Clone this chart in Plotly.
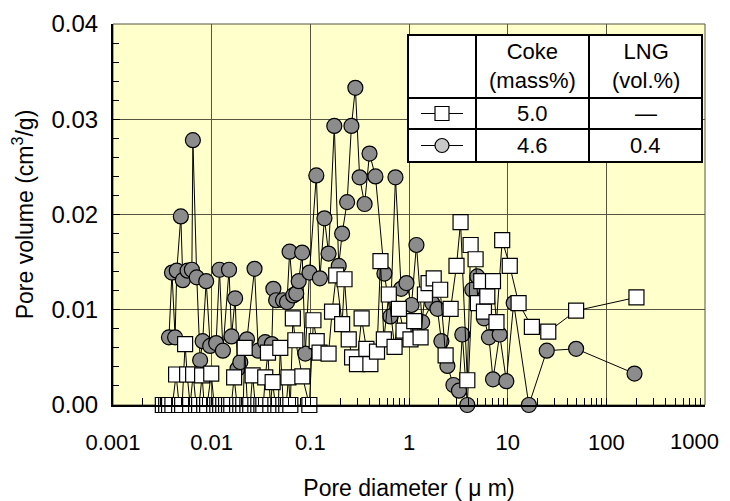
import plotly.graph_objects as go

# ---- data (pore diameter in micrometres, pore volume in cm3/g) ----
coke_d = [0.0032, 0.00346, 0.0037, 0.0040, 0.00436, 0.00468, 0.00502, 0.00538, 0.00564, 0.00605,
          0.00649, 0.00695, 0.00746, 0.0080, 0.0084, 0.0090, 0.0099, 0.0106, 0.0114, 0.0122,
          0.0131, 0.0140, 0.0150, 0.0158, 0.0169, 0.0181, 0.0195, 0.0209, 0.0216, 0.0230,
          0.0246, 0.0260, 0.0277, 0.0297, 0.0319, 0.0334, 0.0349, 0.0372, 0.0393, 0.0415,
          0.0442, 0.0474, 0.0496, 0.0532, 0.0570, 0.0600, 0.0627, 0.0665, 0.0705, 0.083,
          0.0977, 0.1075, 0.116, 0.124, 0.153, 0.166, 0.183, 0.210, 0.222, 0.245,
          0.265, 0.297, 0.331, 0.370, 0.406, 0.474, 0.514, 0.556, 0.624, 0.714,
          0.79, 0.88, 1.035, 1.13, 1.31, 1.45, 1.58, 1.78, 2.07, 2.35,
          2.64, 3.03, 3.33, 3.90, 4.21, 4.73, 4.99, 5.40, 5.75, 6.22,
          7.1, 7.7, 8.8, 10.5, 12.9, 17.6, 25.8, 49.4, 202]
coke_v = [0.0, 0.0, 0.0, 0.0, 0.0032, 0.0, 0.0, 0.0064, 0.0032, 0.0,
          0.0032, 0.0, 0.0, 0.0031, 0.0, 0.0, 0.0033, 0.0, 0.0, 0.0,
          0.0, 0.0, 0.0, 0.0, 0.0029, 0.0, 0.0, 0.0, 0.0060, 0.0,
          0.0, 0.0031, 0.0, 0.0, 0.0, 0.0, 0.0029, 0.0055, 0.0, 0.0024,
          0.0, 0.0, 0.0060, 0.0, 0.0, 0.0029, 0.0, 0.0091, 0.0068, 0.0030,
          0.0, 0.0089, 0.0067, 0.0055, 0.0054, 0.0098, 0.0136, 0.0085, 0.0132, 0.0069,
          0.0050, 0.0043, 0.0091, 0.0059, 0.0043, 0.0056, 0.0151, 0.0069, 0.0116, 0.0061,
          0.0101, 0.0078, 0.0069, 0.0088, 0.0071, 0.0116, 0.0128, 0.0133, 0.0121, 0.0052,
          0.0101, 0.0146, 0.0192, 0.0026, 0.0168, 0.0153, 0.0107, 0.0130, 0.0098, 0.0114,
          0.0130, 0.0087, 0.0173, 0.0146, 0.0107, 0.0082, 0.0077, 0.0099, 0.0113]

lng_d = [0.00369, 0.00396, 0.00426, 0.00443, 0.00487, 0.0051, 0.0057, 0.0063, 0.00645, 0.00706,
         0.00764, 0.0081, 0.0088, 0.00966, 0.0111, 0.0120, 0.0130, 0.0150, 0.0159, 0.0173,
         0.0183, 0.0195, 0.0228, 0.0272, 0.0297, 0.0349, 0.0407, 0.0422, 0.0450, 0.0528,
         0.0580, 0.0617, 0.0670, 0.0720, 0.0762, 0.0826, 0.0889, 0.0980, 0.115, 0.125,
         0.139, 0.153, 0.175, 0.194, 0.210, 0.236, 0.261, 0.286, 0.316, 0.355,
         0.398, 0.457, 0.563, 0.649, 0.729, 0.833, 0.943, 1.06, 1.19, 1.36,
         1.72, 1.94, 2.13, 2.45, 2.82, 3.21, 3.47, 3.90, 4.38, 4.92,
         5.75, 6.46, 7.1, 8.3, 9.7, 11.5, 16.4, 24.9, 49.4, 193]
lng_v = [0.0071, 0.0139, 0.0071, 0.0141, 0.0198, 0.0131, 0.0141, 0.0142, 0.0278, 0.0134,
         0.0047, 0.0067, 0.0130, 0.0062, 0.0065, 0.0142, 0.0057, 0.0142, 0.0072, 0.0112,
         0.0038, 0.0045, 0.0069, 0.0143, 0.0057, 0.0066, 0.0064, 0.0122, 0.0110, 0.0110,
         0.0108, 0.0161, 0.0115, 0.0117, 0.0130, 0.0160, 0.0054, 0.0139, 0.0241, 0.0133,
         0.0196, 0.0159, 0.0293, 0.0146, 0.0180, 0.0213, 0.0293, 0.0333, 0.0239, 0.0211,
         0.0264, 0.0240, 0.0138, 0.0093, 0.0239, 0.0122, 0.0128, 0.0105, 0.0168, 0.0087,
         0.0107, 0.0101, 0.0067, 0.0041, 0.0021, 0.0015, 0.0074, 0.0, 0.0121, 0.0135,
         0.0091, 0.0071, 0.0027, 0.0074, 0.0025, 0.0107, 0.0, 0.0057, 0.0059, 0.0033]

x_tick_vals = [0.001, 0.01, 0.1, 1, 10, 100, 1000]
x_tick_text = ["0.001", "0.01", "0.1", "1", "10", "100", "1000"]
y_tick_vals = [0.00, 0.01, 0.02, 0.03, 0.04]
y_tick_text = ["0.00", "0.01", "0.02", "0.03", "0.04"]

table_header = [["Coke", "(mass%)"], ["LNG", "(vol.%)"]]
table_rows = [["5.0", "\u2014"], ["4.6", "0.4"]]

FONT = "Liberation Sans, Arial, sans-serif"
GRID = "rgb(85,85,65)"

fig = go.Figure()
fig.add_trace(go.Scatter(
    x=lng_d, y=lng_v, mode="lines+markers", name="LNG",
    line=dict(color="black", width=1),
    marker=dict(symbol="circle", size=15, color="#8c8c8c", line=dict(color="black", width=1.2)),
    cliponaxis=False, showlegend=False))
fig.add_trace(go.Scatter(
    x=coke_d, y=coke_v, mode="lines+markers", name="Coke",
    line=dict(color="black", width=1),
    marker=dict(symbol="square", size=15, color="white", line=dict(color="black", width=1.2)),
    cliponaxis=False, showlegend=False))

# page offset of the figure inside the html body (default body margin)
OFF = 8
FIG_W, FIG_H = 730 - OFF, 501 - OFF
# plot-area geometry in screen pixels
L, R, T, B = 113, 705, 24, 405
W, H = R - L, B - T
def px(x):
    return (x - L) / W
def py(y):
    return (B - y) / H

shapes = []
shapes.append(dict(type="rect", xref="paper", yref="paper", x0=0, x1=1, y0=0, y1=1,
                   line=dict(color=GRID, width=1), layer="below"))
cols = [408, 476, 589, 702]
rows = [35, 98, 129, 162]
shapes.append(dict(type="rect", xref="paper", yref="paper", x0=px(cols[0]), x1=px(cols[-1]),
                   y0=py(rows[-1]), y1=py(rows[0]), fillcolor="white",
                   line=dict(color="black", width=2), layer="above"))
for c in cols[1:-1]:
    shapes.append(dict(type="line", xref="paper", yref="paper", x0=px(c), x1=px(c),
                       y0=py(rows[-1]), y1=py(rows[0]), line=dict(color="black", width=2)))
for r in rows[1:-1]:
    shapes.append(dict(type="line", xref="paper", yref="paper", x0=px(cols[0]), x1=px(cols[-1]),
                       y0=py(r), y1=py(r), line=dict(color="black", width=2)))
sym_cx = (cols[0] + cols[1]) / 2
for i, (sym, fill) in enumerate([("rect", "white"), ("circle", "#c8c8c8")]):
    cy = (rows[i + 1] + rows[i + 2]) / 2
    shapes.append(dict(type="line", xref="paper", yref="paper", x0=px(sym_cx - 21), x1=px(sym_cx + 21),
                       y0=py(cy), y1=py(cy), line=dict(color="black", width=1.2)))
    shapes.append(dict(type=sym, xref="paper", yref="paper", xsizemode="pixel", ysizemode="pixel",
                       xanchor=px(sym_cx), yanchor=py(cy), x0=-7, x1=7, y0=-7, y1=7,
                       fillcolor=fill, line=dict(color="black", width=1.2)))

annotations = []
for j, hdr in enumerate(table_header):
    cx = (cols[j + 1] + cols[j + 2]) / 2
    annotations.append(dict(xref="paper", yref="paper", x=px(cx), y=py((rows[0] + rows[1]) / 2),
                            xanchor="center", yanchor="middle",
                            text="<br>".join(hdr), showarrow=False,
                            font=dict(family=FONT, size=22, color="black")))
for i, row in enumerate(table_rows):
    cy = (rows[i + 1] + rows[i + 2]) / 2
    for j, val in enumerate(row):
        cx = (cols[j + 1] + cols[j + 2]) / 2
        annotations.append(dict(xref="paper", yref="paper", x=px(cx), y=py(cy), text=val,
                                xanchor="center", yanchor="middle",
                                showarrow=False, font=dict(family=FONT, size=22, color="black")))

# last x tick label sits at the page edge: draw it as a right-anchored text so it stays whole
shown_text = list(x_tick_text)
last_label = shown_text[-1]
shown_text[-1] = ""
annotations.append(dict(xref="paper", yref="paper", x=px(721), y=py(441),
                        xanchor="right", yanchor="middle", text=last_label, showarrow=False,
                        font=dict(family=FONT, size=22, color="black")))

fig.update_layout(
    width=FIG_W, height=FIG_H,
    margin=dict(l=L - OFF, r=FIG_W + OFF - R, t=T - OFF, b=501 - B),
    paper_bgcolor="white", plot_bgcolor="#ffffcc",
    font=dict(family=FONT, size=24, color="black"),
    shapes=shapes, annotations=annotations,
    xaxis=dict(type="log", range=[-3, 3], tickvals=x_tick_vals, ticktext=shown_text,
               automargin=False,
               tickfont=dict(size=22),
               showgrid=True, gridcolor=GRID, gridwidth=1,
               ticks="inside", ticklen=7, tickcolor="black",
               minor=dict(ticks="inside", ticklen=7, tickcolor="black", dtick="D1", showgrid=False),
               showline=True, linecolor="black", linewidth=2, zeroline=False,
               ticklabelstandoff=17,
               title=dict(text="Pore diameter ( \u03bc m)", font=dict(size=23), standoff=25)),
    yaxis=dict(range=[0, 0.04], tickvals=y_tick_vals, ticktext=y_tick_text,
               automargin=False,
               showgrid=True, gridcolor=GRID, gridwidth=1,
               ticks="inside", ticklen=7, tickcolor="black",
               minor=dict(ticks="inside", ticklen=6, tickcolor="black", dtick=0.002, showgrid=False),
               showline=True, linecolor="black", linewidth=2, zeroline=False,
               ticklabelstandoff=8,
               title=dict(text="Pore volume (cm<sup>3</sup>/g)", font=dict(size=23), standoff=16)),
)

fig.write_html("out.html")
